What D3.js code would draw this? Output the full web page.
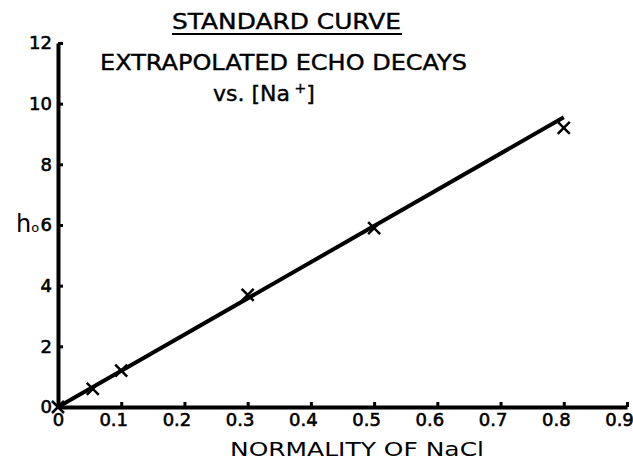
<!DOCTYPE html>
<html>
<head>
<meta charset="utf-8">
<script src="https://cdn.jsdelivr.net/npm/d3@7"></script>
<style>
  body { margin: 0; background: #fff; }
  text { font-family: "DejaVu Sans", "Liberation Sans", sans-serif; fill: #000; }
</style>
</head>
<body>
<div class="chart"></div>
<script>
// data
const normality = [0, 0.055, 0.1, 0.3, 0.5, 0.8];
const h0 = [0, 0.6, 1.2, 3.7, 5.9, 9.2];
const fitLine = [[0, 0], [0.8, 9.55]];
const xTicks = [0, 0.1, 0.2, 0.3, 0.4, 0.5, 0.6, 0.7, 0.8, 0.9];
const yTicks = [0, 2, 4, 6, 8, 10, 12];

const width = 633
const height = 461
const font = '"DejaVu Sans", "Liberation Sans", sans-serif'

const x = d3.scaleLinear().domain([0, 0.9]).range([58, 627])
const y = d3.scaleLinear().domain([0, 12]).range([407, 43])

const svg = d3.select('.chart')
    .append('svg')
    .attr('width', width)
    .attr('height', height)

// axes, ticks drawn inward
const xAxis = d3.axisBottom(x)
    .tickValues(xTicks)
    .tickSizeInner(-5)
    .tickSizeOuter(0)
    .tickPadding(8)
    .tickFormat(d => d === 0 ? '0' : d3.format('.1f')(d))

const yAxis = d3.axisLeft(y)
    .tickValues(yTicks)
    .tickSizeInner(-5)
    .tickSizeOuter(0)
    .tickPadding(6)

const gx = svg.append('g')
    .attr('transform', `translate(0,${y(0)})`)
    .call(xAxis)
const gy = svg.append('g')
    .attr('transform', `translate(${x(0)},0)`)
    .call(yAxis)

for (const g of [gx, gy]) {
    g.select('.domain').attr('stroke', '#000').attr('stroke-width', 4)
    g.selectAll('.tick line').attr('stroke', '#000').attr('stroke-width', 3)
    g.selectAll('.tick text')
        .attr('font-family', font)
        .style('font-size', '18px')
        .attr('fill', '#000')
        .attr('stroke', '#000')
        .attr('stroke-width', 0.6)
}
gx.selectAll('.tick text')
    .attr('dy', '0.6em')
    .attr('dx', d => d === 0 ? 0 : -8)

// fitted line
svg.append('path')
    .datum(fitLine)
    .attr('d', d3.line().x(d => x(d[0])).y(d => y(d[1])))
    .attr('fill', 'none')
    .attr('stroke', '#000')
    .attr('stroke-width', 4)

// X markers
const s = 6
svg.append('g')
    .selectAll('path')
    .data(normality.map((n, i) => [n, h0[i]]))
    .join('path')
    .attr('d', d => {
        const cx = x(d[0]), cy = y(d[1])
        return `M${cx - s},${cy - s}L${cx + s},${cy + s}M${cx - s},${cy + s}L${cx + s},${cy - s}`
    })
    .attr('stroke', '#000')
    .attr('stroke-width', 2.5)

// titles
svg.append('text')
    .attr('x', 172).attr('y', 29)
    .attr('font-size', 22)
    .attr('stroke', '#000').attr('stroke-width', 0.4)
    .attr('textLength', 229)
    .attr('lengthAdjust', 'spacingAndGlyphs')
    .text('STANDARD CURVE')
svg.append('line')
    .attr('x1', 172).attr('x2', 402)
    .attr('y1', 34).attr('y2', 34)
    .attr('stroke', '#000').attr('stroke-width', 2)

svg.append('text')
    .attr('x', 100).attr('y', 70)
    .attr('font-size', 22)
    .attr('stroke', '#000').attr('stroke-width', 0.4)
    .attr('textLength', 367)
    .attr('lengthAdjust', 'spacingAndGlyphs')
    .text('EXTRAPOLATED ECHO DECAYS')

const vs = svg.append('text')
    .attr('x', 213).attr('y', 101)
    .attr('font-size', 22)
    .attr('stroke', '#000').attr('stroke-width', 0.4)
vs.append('tspan').text('vs.  [Na')
vs.append('tspan').attr('dy', -8).attr('font-size', 14).text(' +')
vs.append('tspan').attr('dy', 8).text(']')

svg.append('text')
    .attr('x', 230).attr('y', 456)
    .attr('font-size', 19)
    .attr('textLength', 254)
    .attr('lengthAdjust', 'spacingAndGlyphs')
    .text('NORMALITY OF NaCl')

// y label h0
const yl = svg.append('text')
    .attr('x', 16).attr('y', 232)
    .attr('font-size', 24)
yl.append('tspan').text('h')
yl.append('tspan').attr('font-size', 13).text('o')
</script>
</body>
</html>
